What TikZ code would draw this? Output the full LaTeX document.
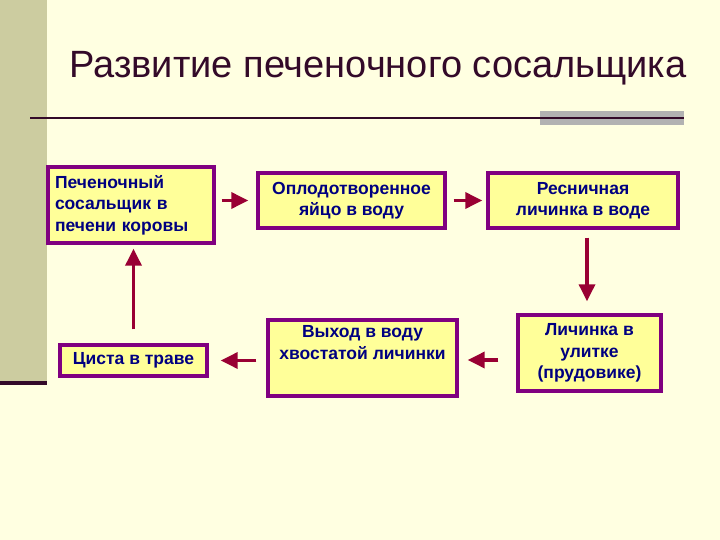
\documentclass[tikz,border=0pt]{standalone}
\usepackage{fontspec}
\setmainfont{Liberation Sans}
\usetikzlibrary{arrows.meta}
\definecolor{bg}{RGB}{255,255,225}
\definecolor{barc}{RGB}{204,204,160}
\definecolor{titlec}{RGB}{51,10,41}
\definecolor{boxfill}{RGB}{255,255,153}
\definecolor{boxline}{RGB}{128,0,128}
\definecolor{txt}{RGB}{0,0,128}
\definecolor{arrc}{RGB}{153,0,51}
\definecolor{greyr}{RGB}{178,178,178}
\tikzset{
  stagefont/.style={font=\bfseries\fontsize{17.5}{21.5}\selectfont},
  stage/.style={draw=boxline, line width=3.4pt, fill=boxfill, text=txt,
    stagefont, inner sep=0pt},
  arr/.style={draw=arrc, line width=3.4pt, -{Triangle[length=17pt,width=16pt]}}
}
\begin{document}
\begin{tikzpicture}[x=1pt,y=-1pt]
\useasboundingbox (0,0) rectangle (720,540);
\fill[bg] (0,0) rectangle (720,540);
\fill[barc] (0,0) rectangle (47,383);
\draw[titlec, line width=3.5pt] (0,383) -- (47,383);
\node[text=titlec, font=\fontsize{38}{44}\selectfont, anchor=west] (title) at (66,68) {Развитие печеночного сосальщика};
\fill[greyr] (540,111) rectangle (684,125);
\draw[titlec, line width=2.2pt] (30,118) -- (684,118);

\node[stage, minimum width=166pt, minimum height=76pt, align=left, text width=152pt, inner xsep=7pt] (n1) at (131,205) {Печеночный\\сосальщик в\\печени коровы};
\node[stage, minimum width=187pt, minimum height=55pt, align=center] (n2) at (351.5,200.5) {Оплодотворенное\\яйцо в воду};
\node[stage, minimum width=190pt, minimum height=55pt, align=center] (n3) at (583,200.5) {Ресничная\\личинка в воде};
\node[stage, minimum width=143pt, minimum height=76pt, align=center] (n4) at (589.5,353) {Личинка в\\улитке\\(прудовике)};
\node[stage, minimum width=189pt, minimum height=76pt] (n5) at (362.5,358) {};
\node[text=txt, stagefont, align=center, anchor=north, inner sep=0pt] (n5t) at ([yshift=-7pt]n5.north) {Выход в воду\\хвостатой личинки};
\node[stage, minimum width=147pt, minimum height=31pt, align=center] (n6) at (133.5,360.5) {Циста в траве};

\draw[arr, shorten <=6pt, shorten >=8pt] (n2.west -| n1.east) -- (n2.west);
\draw[arr, shorten <=7pt, shorten >=4pt] (n2.east) -- (n3.west);
\draw[arr, shorten <=8pt, shorten >=12pt] (n3.south -| 587,0) -- (n4.north -| 587,0);
\draw[arr, shorten <=18pt, shorten >=9pt] (n4.west |- 0,360) -- (n5.east |- 0,360);
\draw[arr, shorten <=10pt, shorten >=12pt] (n5.west |- n6.east) -- (n6.east);
\draw[arr, shorten <=14pt, shorten >=4pt] (n6.north) -- (n6.north |- n1.south);
\end{tikzpicture}
\end{document}
